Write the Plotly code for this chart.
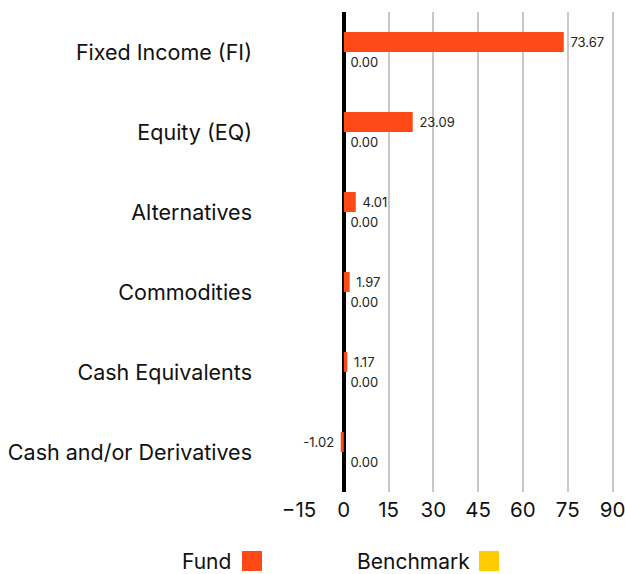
import plotly.graph_objects as go

categories = ["Fixed Income (FI)", "Equity (EQ)", "Alternatives", "Commodities",
              "Cash Equivalents", "Cash and/or Derivatives"]
fund_values = [73.67, 23.09, 4.01, 1.97, 1.17, -1.02]
benchmark_values = [0.00, 0.00, 0.00, 0.00, 0.00, 0.00]
tick_values = [-15, 0, 15, 30, 45, 60, 75, 90]

FONT = "Inter"
FUND_COLOR = "#ff4a17"
BENCH_COLOR = "#ffcc00"
NB = "\u00a0"


def label(v):
    s = f"{v:.2f}"
    return s + NB if v < 0 else NB + s


fig = go.Figure()
fig.add_trace(go.Bar(
    y=categories, x=fund_values, orientation="h", name="Fund",
    marker=dict(color=FUND_COLOR, line=dict(width=0)),
    text=[label(v) for v in fund_values], textposition="outside",
    textfont=dict(size=13, color="#222222", family=FONT),
    cliponaxis=False,
))
fig.add_trace(go.Bar(
    y=categories, x=benchmark_values, orientation="h", name="Benchmark",
    marker=dict(color=BENCH_COLOR, line=dict(width=0)),
    text=[label(v) for v in benchmark_values], textposition="outside",
    textfont=dict(size=13, color="#222222", family=FONT),
    cliponaxis=False,
))

L, R, T, B = 299, 11, 12, 82
W, H = 625, 574
fig.update_layout(
    width=W, height=H,
    margin=dict(l=L, r=R, t=T, b=B, autoexpand=False),
    paper_bgcolor="white", plot_bgcolor="white",
    barmode="group", bargap=0.5, bargroupgap=0,
    showlegend=False,
    font=dict(family=FONT, color="#111111"),
    uniformtext=dict(minsize=13, mode="show"),
)
fig.update_xaxes(
    range=[-15, 90.5], tickvals=tick_values, automargin=False,
    tickfont=dict(size=20.5, family=FONT, color="#111111"),
    ticklabeloverflow="allow", ticklabelstandoff=3,
    showgrid=True, gridcolor="#c8c8c8", gridwidth=2,
    zeroline=True, zerolinecolor="black", zerolinewidth=4,
    showline=False, ticks="",
)
fig.update_yaxes(
    autorange="reversed", automargin=False,
    tickfont=dict(size=21.5, family=FONT, color="#111111"),
    ticklabelstandoff=46, showgrid=False, zeroline=False, ticks="",
)

pw, ph = W - L - R, H - T - B


def px_x(px):
    return (px - L) / pw


def px_y(py):
    return (H - B - py) / ph


legend_items = [("Fund", FUND_COLOR, 233, 242), ("Benchmark", BENCH_COLOR, 472, 479)]
for name, color, text_right, sq_left in legend_items:
    fig.add_annotation(
        xref="paper", yref="paper", x=px_x(text_right), y=px_y(561),
        xanchor="right", yanchor="middle", text=name, showarrow=False,
        font=dict(size=21, family=FONT, color="#111111"),
    )
    fig.add_shape(
        type="rect", xref="paper", yref="paper",
        x0=px_x(sq_left), x1=px_x(sq_left + 20), y0=px_y(571), y1=px_y(551),
        fillcolor=color, line=dict(width=0),
    )

fig.write_html(
    "out.html",
    config={"displayModeBar": False},
    post_script="document.body.style.margin='0';document.body.style.overflow='hidden';",
)
